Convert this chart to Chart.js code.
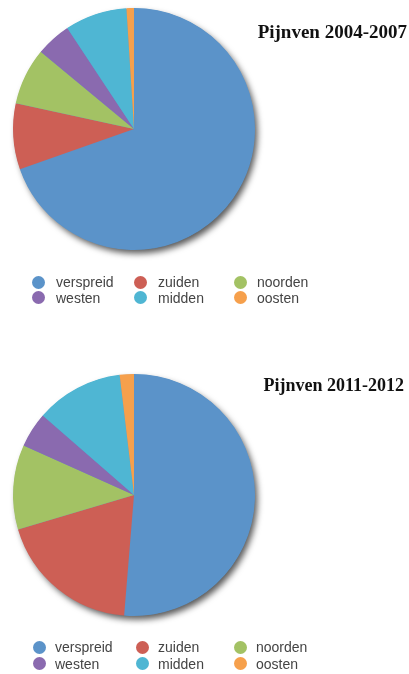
<!DOCTYPE html>
<html><head><meta charset="utf-8">
<script src="https://cdn.jsdelivr.net/npm/chart.js@4/dist/chart.umd.min.js"></script>
<style>
html,body{margin:0;padding:0;background:#fff;}
#wrap{position:relative;width:409px;height:674px;overflow:hidden;}
canvas{position:absolute;left:0;}
.lg{position:absolute;font:14px "Liberation Sans",Arial,sans-serif;color:#444;white-space:nowrap;line-height:16px;height:16px;}
.dot{position:absolute;width:13px;height:13px;border-radius:50%;}
</style></head><body>
<div id="wrap">
<canvas id="c1" style="top:0;width:409px;height:337px"></canvas>
<canvas id="c2" style="top:337px;width:409px;height:337px"></canvas>
</div>
<script>
// ---- data ----
const categories = ['verspreid', 'zuiden', 'noorden', 'westen', 'midden', 'oosten'];
const values2004 = [69.6, 8.8, 7.6, 4.7, 8.3, 1.0];
const values2011 = [51.3, 19.1, 11.3, 4.7, 11.7, 1.9];
const title2004 = 'Pijnven 2004-2007';
const title2011 = 'Pijnven 2011-2012';

// ---- styles ----
const sliceColors = ['#5b93c9', '#cd5f55', '#a3c264', '#8a6aaf', '#4fb6d3', '#f6a04c'];

const shadowPlugin = {
  id: 'pieShadow',
  beforeDatasetsDraw(chart) {
    const arc = chart.getDatasetMeta(0).data[0];
    if (!arc) return;
    const ctx = chart.ctx;
    ctx.save();
    ctx.shadowColor = 'rgba(0,0,0,0.65)';
    ctx.shadowBlur = 6;
    ctx.shadowOffsetX = 3;
    ctx.shadowOffsetY = 4;
    ctx.fillStyle = sliceColors[0];
    ctx.beginPath();
    ctx.arc(arc.x, arc.y, arc.outerRadius - 0.5, 0, Math.PI * 2);
    ctx.fill();
    ctx.restore();
  }
};

const sideTitlePlugin = {
  id: 'sideTitle',
  afterDraw(chart, args, opts) {
    const ctx = chart.ctx;
    ctx.save();
    ctx.font = 'bold ' + opts.size + 'px "Liberation Serif", "Times New Roman", serif';
    ctx.fillStyle = '#111';
    ctx.textAlign = 'right';
    ctx.textBaseline = 'alphabetic';
    ctx.fillText(opts.text, opts.x, opts.y);
    ctx.restore();
  }
};

function makePie(id, values, title, pad, tpos) {
  return new Chart(document.getElementById(id), {
    type: 'pie',
    data: {
      labels: categories,
      datasets: [{ data: values, backgroundColor: sliceColors, borderWidth: 0 }]
    },
    options: {
      responsive: false,
      animation: false,
      devicePixelRatio: 1,
      layout: { padding: pad },
      plugins: {
        legend: { display: false },
        tooltip: { enabled: false },
        sideTitle: { text: title, x: tpos.x, y: tpos.y, size: tpos.size }
      }
    },
    plugins: [shadowPlugin, sideTitlePlugin]
  });
}

function htmlLegend(chart, top, rowGap, dotX, textX) {
  const wrap = document.getElementById('wrap');
  const items = Chart.overrides.pie.plugins.legend.labels.generateLabels(chart);
  items.forEach((it, i) => {
    const row = Math.floor(i / 3), col = i % 3;
    const cy = top + row * rowGap;
    const d = document.createElement('div');
    d.className = 'dot';
    d.style.background = it.fillStyle;
    d.style.left = (dotX[col] - 6.5) + 'px';
    d.style.top = (cy - 6.5) + 'px';
    wrap.appendChild(d);
    const t = document.createElement('div');
    t.className = 'lg';
    t.textContent = it.text;
    t.style.left = textX[col] + 'px';
    t.style.top = (cy - 8) + 'px';
    wrap.appendChild(t);
  });
}

const c1 = document.getElementById('c1'); c1.width = 409; c1.height = 337;
const c2 = document.getElementById('c2'); c2.width = 409; c2.height = 337;

const ch1 = makePie('c1', values2004, title2004,
  { left: 13, top: 8, right: 154, bottom: 87 }, { x: 407, y: 38, size: 19 });
const ch2 = makePie('c2', values2011, title2011,
  { left: 13, top: 37, right: 154, bottom: 58 }, { x: 404, y: 54, size: 18 });

htmlLegend(ch1, 282, 15.5, [38, 140, 240], [56, 158, 257]);
htmlLegend(ch2, 647, 16.5, [39, 142, 240], [55, 158, 256]);
</script>
</body></html>
